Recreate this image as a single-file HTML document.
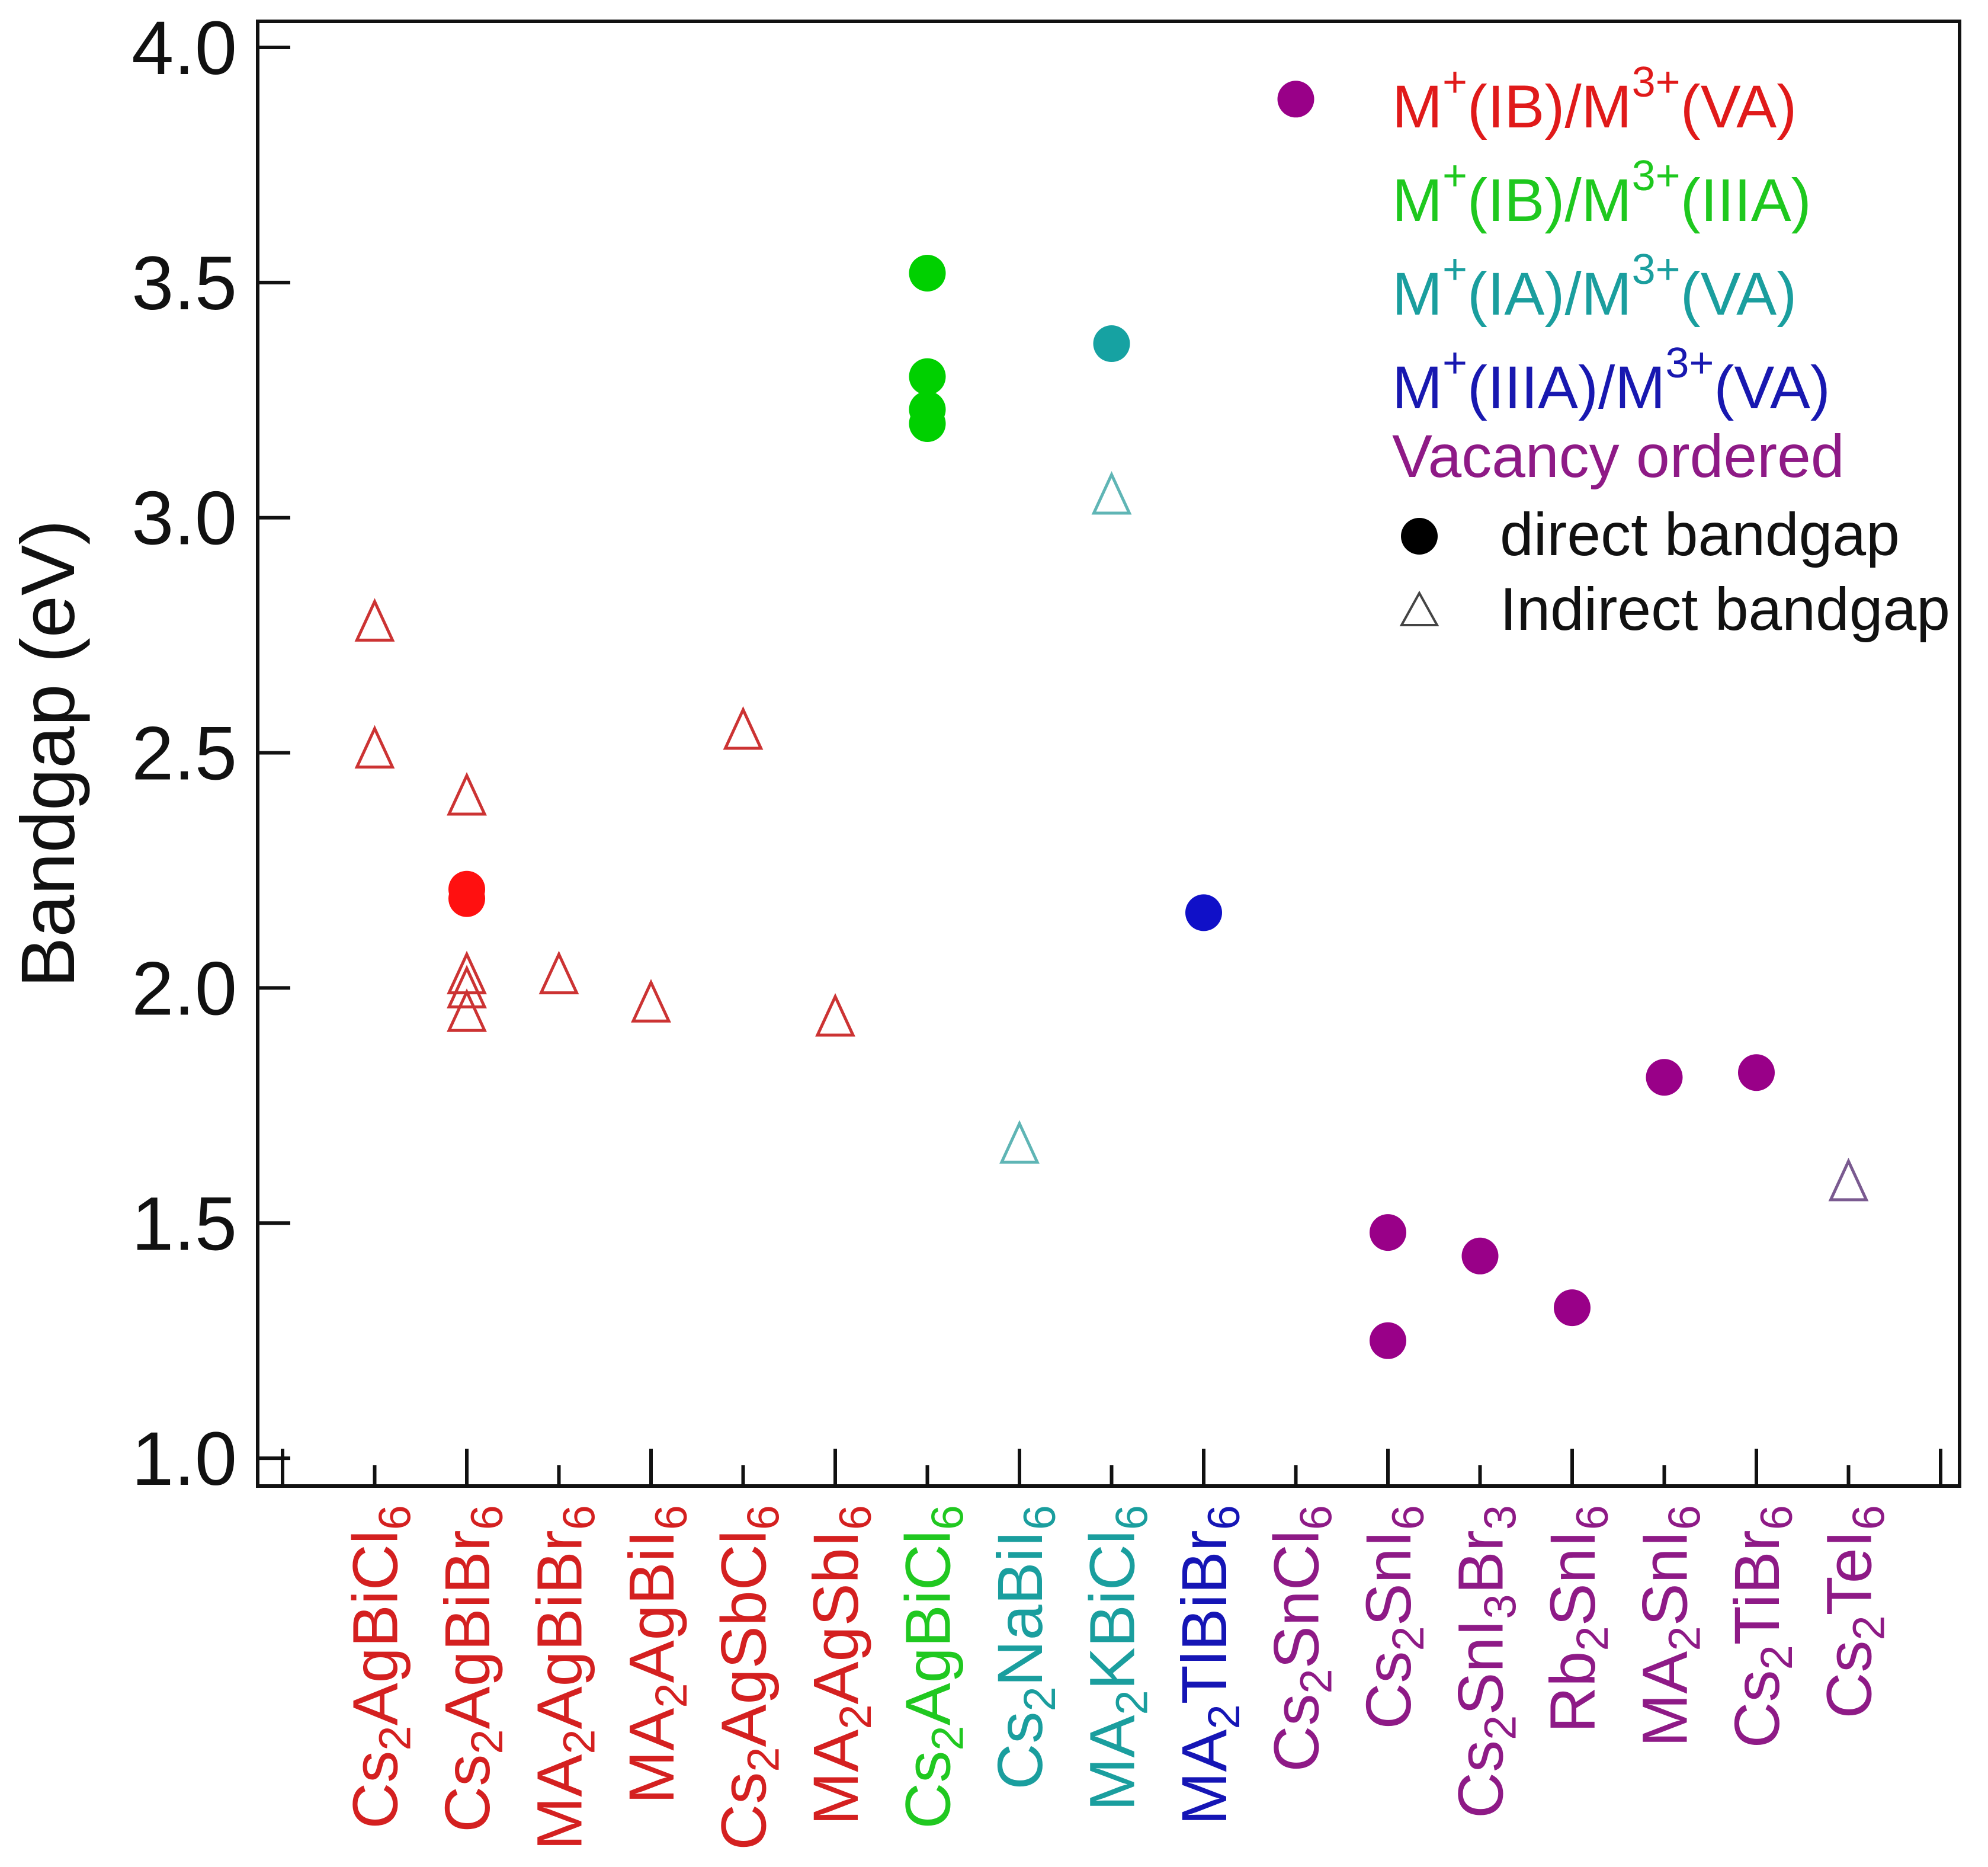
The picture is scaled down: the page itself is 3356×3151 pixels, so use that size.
<!DOCTYPE html>
<html><head><meta charset="utf-8"><style>
html,body{margin:0;padding:0;background:#fff;}
svg{display:block;font-family:"Liberation Sans",Arial,sans-serif;}
</style></head><body>
<svg id="chart" width="3356" height="3151" viewBox="0 0 3356 3151" xmlns="http://www.w3.org/2000/svg">
<rect x="0" y="0" width="3356" height="3151" fill="#fff"/>
<g id="marks"></g>
<g id="xlabels"></g>
<g id="yaxis"></g>
<g id="xaxis"></g>
<rect x="435" y="36" width="2873" height="2472" fill="none" stroke="#111" stroke-width="6"/>
<text transform="translate(125,1272) rotate(-90)" text-anchor="middle" font-size="128" fill="#111">Bandgap (eV)</text>
<g font-size="102">
<text x="2350" y="215" fill="#e01a1a">M<tspan font-size="72" dy="-52">+</tspan><tspan dy="52">(IB)/M</tspan><tspan font-size="72" dy="-52">3+</tspan><tspan dy="52">(VA)</tspan></text>
<text x="2350" y="373" fill="#1ec81e">M<tspan font-size="72" dy="-52">+</tspan><tspan dy="52">(IB)/M</tspan><tspan font-size="72" dy="-52">3+</tspan><tspan dy="52">(IIIA)</tspan></text>
<text x="2350" y="531" fill="#1a9e9e">M<tspan font-size="72" dy="-52">+</tspan><tspan dy="52">(IA)/M</tspan><tspan font-size="72" dy="-52">3+</tspan><tspan dy="52">(VA)</tspan></text>
<text x="2350" y="689" fill="#1818b0">M<tspan font-size="72" dy="-52">+</tspan><tspan dy="52">(IIIA)/M</tspan><tspan font-size="72" dy="-52">3+</tspan><tspan dy="52">(VA)</tspan></text>
<text x="2350" y="805" fill="#8e1a86">Vacancy ordered</text>
<circle cx="2396" cy="905" r="31" fill="#000"/>
<text x="2532" y="937" fill="#111">direct bandgap</text>
<polygon points="2396,1001 2366,1055 2426,1055" fill="none" stroke="#444" stroke-width="4"/>
<text x="2532" y="1063" fill="#111">Indirect bandgap</text>
</g>
</svg>
<script>
const categories = ["Cs2AgBiCl6","Cs2AgBiBr6","MA2AgBiBr6","MA2AgBiI6","Cs2AgSbCl6","MA2AgSbI6","Cs2AgBiCl6","Cs2NaBiI6","MA2KBiCl6","MA2TlBiBr6","Cs2SnCl6","Cs2SnI6","Cs2SnI3Br3","Rb2SnI6","MA2SnI6","Cs2TiBr6","Cs2TeI6"];
const categoryGroups = ["ibva","ibva","ibva","ibva","ibva","ibva","ibiiia","iava","iava","iiiava","vac","vac","vac","vac","vac","vac","vac"];
const directCat = [2,2,7,7,7,7,9,10,11,12,12,13,14,15,16];
const directVal = [2.21,2.19,3.52,3.30,3.23,3.20,3.37,2.16,3.89,1.48,1.25,1.43,1.32,1.81,1.82];
const indirectCat = [1,1,2,2,2,2,3,4,5,6,8,9,17];
const indirectVal = [2.78,2.51,2.41,2.03,2.00,1.95,2.03,1.97,2.55,1.94,1.67,3.05,1.59];
const yTicks = [1.0,1.5,2.0,2.5,3.0,3.5,4.0];
const yTickLabels = ["1.0","1.5","2.0","2.5","3.0","3.5","4.0"];

const NS="http://www.w3.org/2000/svg";
const markColor={ibva:"#ff1010",ibiiia:"#00d000",iava:"#16a2a2",iiiava:"#1010c8",vac:"#990088"};
const triColor={ibva:"#cc3333",ibiiia:"#00d000",iava:"#5fb5b5",iiiava:"#1010c8",vac:"#7a5a90"};
const labelColor={ibva:"#d42020",ibiiia:"#20c820",iava:"#1a9e9e",iiiava:"#1515b5",vac:"#8e1a86"};
function xs(i){return 477+155.5*i;}
function ys(v){return 80+(4-v)*793.7;}
function mk(tag,attrs,parent){const e=document.createElementNS(NS,tag);for(const k in attrs)e.setAttribute(k,attrs[k]);parent.appendChild(e);return e;}

const yaxis=document.getElementById('yaxis');
yTicks.forEach((t,k)=>{
  const ln=mk('line',{x1:435,x2:490,y1:ys(t),y2:ys(t),stroke:'#111','stroke-width':6},yaxis);
  
  
  const tx=mk('text',{x:400,y:ys(t)+45,'text-anchor':'end','font-size':128,fill:'#111'},yaxis);
  tx.textContent=yTickLabels[k];
  
  
});
const xaxis=document.getElementById('xaxis');
for(let i=0;i<=18;i++){
  const len=(i%2===0)?63:35;
  const ln=mk('line',{x1:xs(i),x2:xs(i),y1:2508,y2:2508-len,stroke:'#111','stroke-width':6},xaxis);
  
  
}
const xl=document.getElementById('xlabels');
categories.forEach((c,k)=>{
  const i=k+1;
  const g=categoryGroups[k];
  const t=mk('text',{transform:`translate(${xs(i)+38},2540) rotate(-90)`,'text-anchor':'end','font-size':108,fill:labelColor[g]},xl);
  
  
  const parts=c.match(/[A-Za-z]+|\d+/g);
  let sub=false;
  parts.forEach(p=>{
    const s=mk('tspan',{},t);
    if(/\d/.test(p)){s.setAttribute('font-size',76);s.setAttribute('dy',22);sub=true;}
    else if(sub){s.setAttribute('dy',-22);sub=false;}
    s.textContent=p;
  });
});
const marks=document.getElementById('marks');
indirectCat.forEach((c,k)=>{
  const x=xs(c),y=ys(indirectVal[k]);
  const p=mk('polygon',{points:`${x},${y-33} ${x-30},${y+32} ${x+30},${y+32}`,fill:'none',stroke:triColor[categoryGroups[c-1]],'stroke-width':5},marks);
  
  
});
directCat.forEach((c,k)=>{
  const cc=mk('circle',{cx:xs(c),cy:ys(directVal[k]),r:31,fill:markColor[categoryGroups[c-1]]},marks);
  
  
});
</script>
</body></html>
